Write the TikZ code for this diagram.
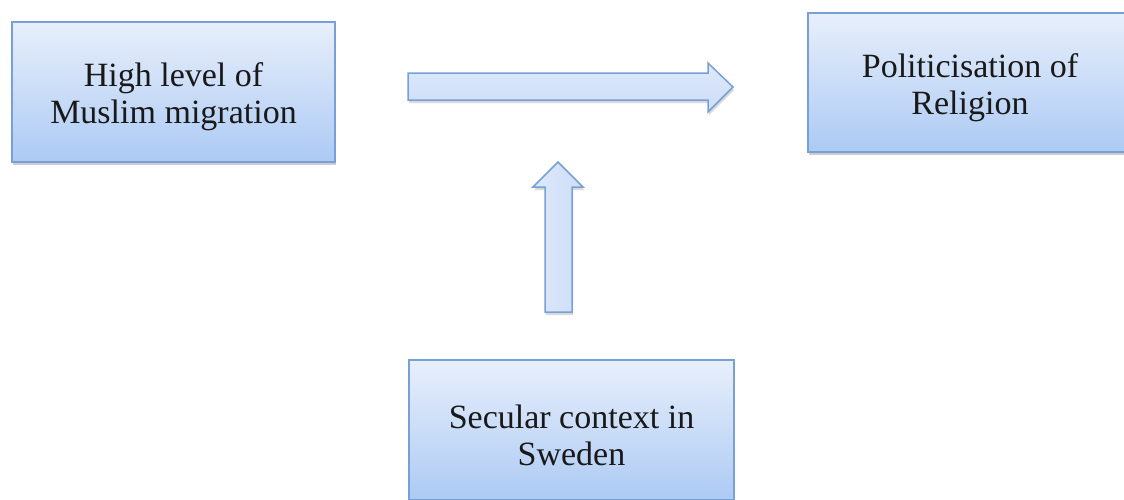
\documentclass[tikz,border=0pt]{standalone}
\usepackage{fontspec}
\setmainfont{Liberation Serif}
\usetikzlibrary{shadows}
\definecolor{boxtop}{RGB}{232,239,251}
\definecolor{boxbot}{RGB}{172,202,244}
\definecolor{boxline}{RGB}{120,160,214}
\definecolor{arrowfill}{RGB}{205,222,248}
\definecolor{txtcol}{RGB}{25,25,25}
\tikzset{
  box/.style={rectangle, draw=boxline, line width=1.5pt, top color=boxtop, bottom color=boxbot,
    drop shadow={shadow xshift=1pt, shadow yshift=-3pt, opacity=0.4}, inner sep=0pt},
  txt/.style={align=center, font=\fontsize{34}{37}\selectfont, text=txtcol, inner sep=0pt},
  blockarrow/.style={draw=boxline, line width=1.5pt, top color=boxtop!60!arrowfill, bottom color=arrowfill,
    drop shadow={shadow xshift=1pt, shadow yshift=-3pt, opacity=0.3}, line join=miter}
}
\begin{document}
\begin{tikzpicture}[x=1pt,y=-1pt]
\useasboundingbox (0,0) rectangle (1124,499);
\clip (0,0) rectangle (1124,499);
\node[box, minimum width=323pt, minimum height=140pt] (mig) at (173.5,92) {};
\node[txt] (migT) at ([yshift=-5pt]mig.center) {High level of\\Muslim migration};
\node[box, minimum width=324pt, minimum height=139pt] (pol) at (970,82.5) {};
\node[txt] (polT) at ([yshift=-5pt]pol.center) {Politicisation of\\Religion};
\node[box, minimum width=325pt, minimum height=140pt] (sec) at (571.5,430) {};
\node[txt] (secT) at ([yshift=-5pt]sec.center) {Secular context in\\Sweden};
% horizontal block arrow
\coordinate (ht) at (733,87);
\draw[blockarrow] (408,73) -- (708,73) -- (708,63) -- (ht) -- (708,112) -- (708,100) -- (408,100) -- cycle;
% vertical block arrow
\coordinate (vt) at (558,162);
\draw[blockarrow, left color=boxtop!60!arrowfill, right color=arrowfill] (545,312) -- (545,187) -- (533,187) -- (vt) -- (583,187) -- (572,187) -- (572,312) -- cycle;
\end{tikzpicture}
\end{document}
